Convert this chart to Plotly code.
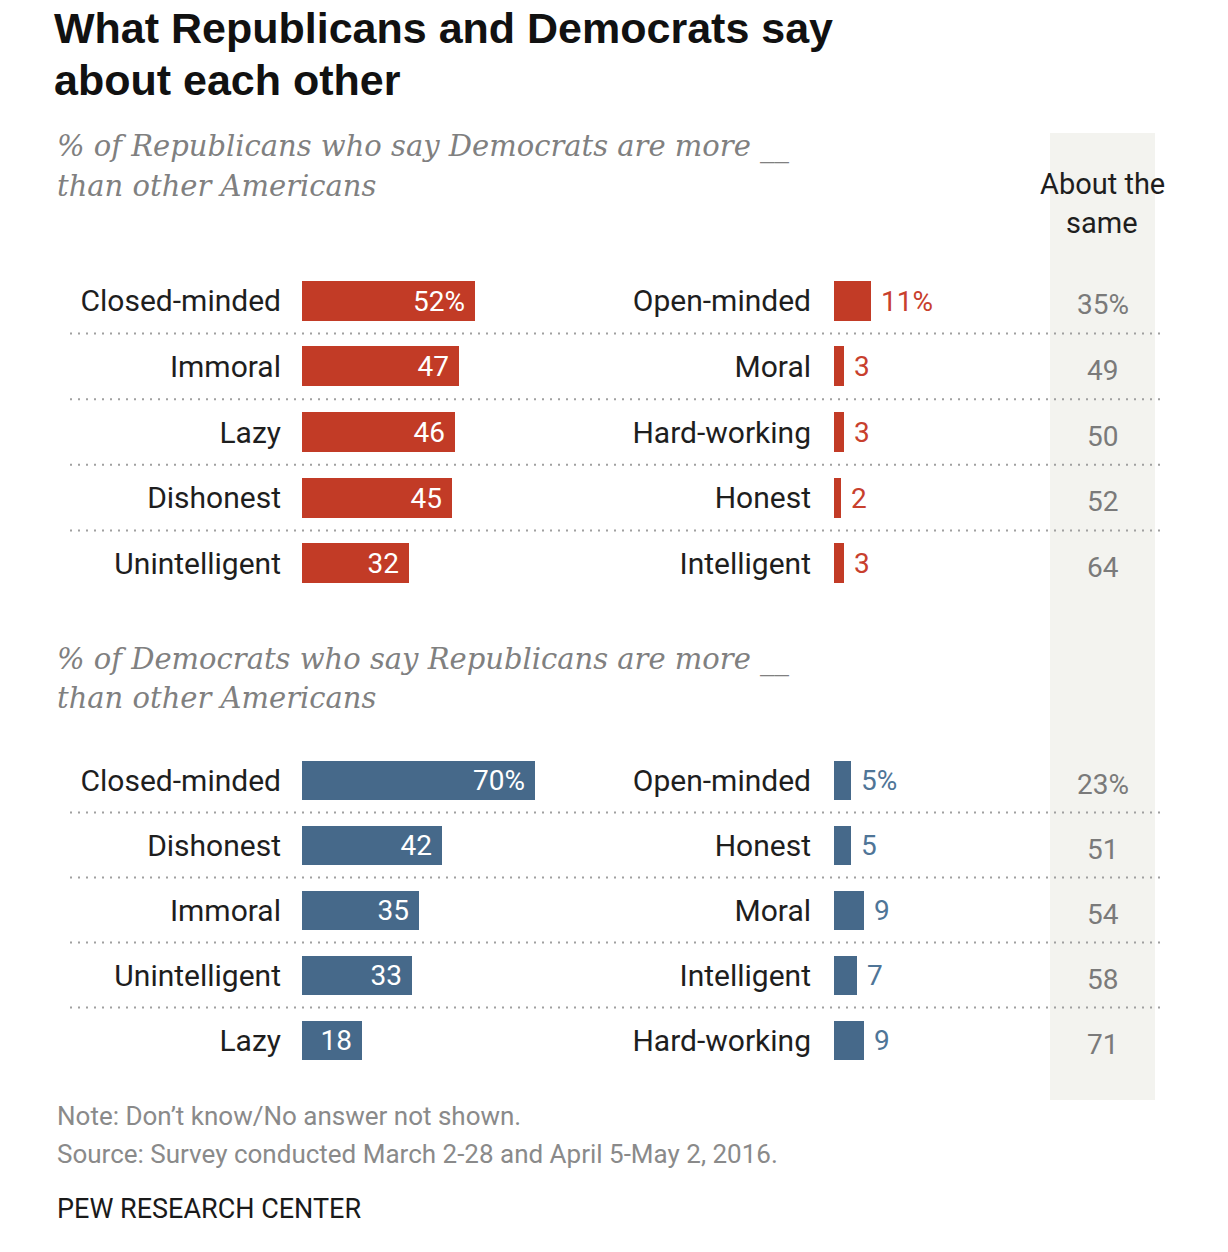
import plotly.graph_objects as go

W, H = 1228, 1252

# ---------------- data ----------------
rep_neg_labels = ["Closed-minded", "Immoral", "Lazy", "Dishonest", "Unintelligent"]
rep_neg_vals = [52, 47, 46, 45, 32]
rep_pos_labels = ["Open-minded", "Moral", "Hard-working", "Honest", "Intelligent"]
rep_pos_vals = [11, 3, 3, 2, 3]
rep_same_vals = [35, 49, 50, 52, 64]

dem_neg_labels = ["Closed-minded", "Dishonest", "Immoral", "Unintelligent", "Lazy"]
dem_neg_vals = [70, 42, 35, 33, 18]
dem_pos_labels = ["Open-minded", "Honest", "Moral", "Intelligent", "Hard-working"]
dem_pos_vals = [5, 5, 9, 7, 9]
dem_same_vals = [23, 51, 54, 58, 71]

RED = "#c23b26"
RED_TXT = "#c8402d"
BLUE = "#46698a"
BLUE_TXT = "#4f7597"
GRAY_TXT = "#7a7a7a"
LABEL = "#1e1e1e"
FONT = "Roboto"


def px(p):
    return p / W


def py(p):
    return 1 - p / H


def fmt(vals, first_pct=True):
    return [f"{v}%" if (i == 0 and first_pct) else f"{v}" for i, v in enumerate(vals)]


fig = go.Figure()

panels = [
    dict(neg_l=rep_neg_labels, neg_v=rep_neg_vals, pos_l=rep_pos_labels, pos_v=rep_pos_vals,
         same=rep_same_vals, color=RED, tcolor=RED_TXT, yl="y", yr="y2"),
    dict(neg_l=dem_neg_labels, neg_v=dem_neg_vals, pos_l=dem_pos_labels, pos_v=dem_pos_vals,
         same=dem_same_vals, color=BLUE, tcolor=BLUE_TXT, yl="y3", yr="y4"),
]

ann = []

for p in panels:
    fig.add_trace(go.Bar(
        x=p["neg_v"], y=p["neg_l"], orientation="h", xaxis="x", yaxis=p["yl"],
        marker=dict(color=p["color"], line=dict(width=0)), width=0.61,
        text=[t + "\u00a0" for t in fmt(p["neg_v"])], textposition="inside",
        insidetextanchor="end", constraintext="none",
        insidetextfont=dict(color="white", size=28, family=FONT),
        hoverinfo="skip", cliponaxis=False, showlegend=False))
    fig.add_trace(go.Bar(
        x=p["pos_v"], y=p["pos_l"], orientation="h", xaxis="x2", yaxis=p["yr"],
        marker=dict(color=p["color"], line=dict(width=0)), width=0.61,
        text=["\u00a0" + t for t in fmt(p["pos_v"])], textposition="outside", constraintext="none",
        outsidetextfont=dict(color=p["tcolor"], size=28, family=FONT),
        hoverinfo="skip", cliponaxis=False, showlegend=False))
    for lab, t in zip(p["neg_l"], fmt(p["same"])):
        ann.append(dict(text=t, x=0, y=lab, xref="x3", yref=p["yl"], xanchor="center",
                        yanchor="middle", showarrow=False, yshift=-4,
                        font=dict(color=GRAY_TXT, size=28, family=FONT)))

dom1 = [py(596), py(268)]
dom2 = [py(1072.5), py(747.5)]

xcommon = dict(showgrid=False, zeroline=False, showticklabels=False, showline=False, fixedrange=True)
ycommon = dict(type="category", autorange="reversed", showgrid=False, zeroline=False, showline=False,
               ticks="", tickfont=dict(size=30, family=FONT, color=LABEL), fixedrange=True)

fig.update_layout(
    width=W, height=H,
    margin=dict(l=0, r=0, t=0, b=0),
    paper_bgcolor="white", plot_bgcolor="rgba(0,0,0,0)",
    bargap=0,
    xaxis=dict(domain=[px(302), px(302 + 3.333 * 75)], range=[0, 75], anchor="y", **xcommon),
    xaxis2=dict(domain=[px(834), px(834 + 3.333 * 75)], range=[0, 75], anchor="y2", **xcommon),
    xaxis3=dict(domain=[px(1050), px(1155)], range=[-1, 1], anchor="y", **xcommon),
    yaxis=dict(domain=dom1, anchor="x", ticklabelstandoff=20, **ycommon),
    yaxis2=dict(domain=dom1, anchor="x2", ticklabelstandoff=22, **ycommon),
    yaxis3=dict(domain=dom2, anchor="x", ticklabelstandoff=20, **ycommon),
    yaxis4=dict(domain=dom2, anchor="x2", ticklabelstandoff=22, **ycommon),
)

shapes = [dict(type="rect", xref="paper", yref="paper", x0=px(1050), x1=px(1155),
               y0=py(1100), y1=py(133), fillcolor="#f3f3ef", line=dict(width=0), layer="below")]
for yref in ["y", "y3"]:
    for k in range(4):
        shapes.append(dict(type="line", xref="paper", yref=yref, x0=px(70), x1=px(1165),
                           y0=k + 0.5, y1=k + 0.5,
                           line=dict(color="#a0a0a0", width=2, dash="2px,6px"), layer="below"))
fig.update_layout(shapes=shapes)


def add_text(text, x, y, size, color, family=FONT, xanchor="left", bold=False, italic=False):
    if bold:
        text = f"<b>{text}</b>"
    if italic:
        text = f"<i>{text}</i>"
    ann.append(dict(text=text, x=x, y=y, xref="paper", yref="paper", xanchor=xanchor,
                    yanchor="middle", showarrow=False, align=xanchor if xanchor != "center" else "center",
                    font=dict(size=size, color=color, family=family)))


TITLE_FONT = "Liberation Sans"
SUB_FONT = "DejaVu Serif"
add_text("What Republicans and Democrats say", px(52), py(28), 43, "#111111", TITLE_FONT, bold=True)
add_text("about each other", px(52), py(80), 43, "#111111", TITLE_FONT, bold=True)
add_text("% of Republicans who say Democrats are more __", px(55), py(146), 29, "#808080", SUB_FONT, italic=True)
add_text("than other Americans", px(55), py(186), 29, "#808080", SUB_FONT, italic=True)
add_text("% of Democrats who say Republicans are more __", px(55), py(659), 29, "#808080", SUB_FONT, italic=True)
add_text("than other Americans", px(55), py(698), 29, "#808080", SUB_FONT, italic=True)
add_text("About the", px(1102), py(184), 29, LABEL, xanchor="center")
add_text("same", px(1102), py(223), 29, LABEL, xanchor="center")
add_text("Note: Don\u2019t know/No answer not shown.", px(55), py(1116), 26, "#8a8a8a")
add_text("Source: Survey conducted March 2-28 and April 5-May 2, 2016.", px(55), py(1154), 26, "#8a8a8a")
add_text("PEW RESEARCH CENTER", px(55), py(1209), 27, "#1a1a1a")
fig.update_layout(annotations=ann)

fig.write_html("out.html", config={"displayModeBar": False},
               post_script="document.body.style.margin='0';document.body.style.overflow='hidden';")
